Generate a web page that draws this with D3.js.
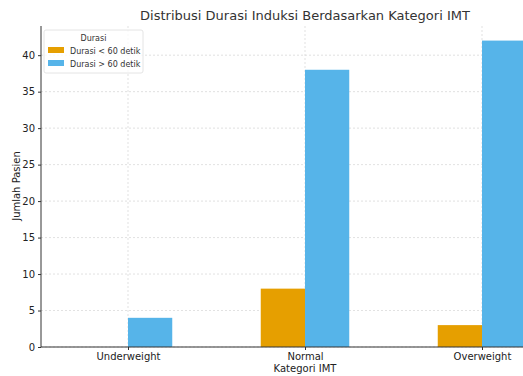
<!DOCTYPE html>
<html>
<head>
<meta charset="utf-8">
<script src="https://cdn.jsdelivr.net/npm/d3@7"></script>
<style>
  body { margin: 0; background: #fff; }
  svg { display: block; font-family: "DejaVu Sans", sans-serif; }
</style>
</head>
<body>
<div id="chart"></div>
<script>
const categories = ["Underweight", "Normal", "Overweight"];
const seriesNames = ["Durasi < 60 detik", "Durasi > 60 detik"];
const under60 = [0, 8, 3];
const over60 = [4, 38, 42];
const yTicks = [0, 5, 10, 15, 20, 25, 30, 35, 40];
const colors = ["#E69F00", "#56B4E9"];

const width = 523, height = 376;
const plotLeft = 41, plotTop = 26, plotBottom = 347;

const svg = d3.select("#chart").append("svg")
  .attr("width", width).attr("height", height);

// category index -> pixel centre
const x = d3.scaleLinear().domain([0, 1]).range([128, 305]);
const y = d3.scaleLinear().domain([0, 44]).range([plotBottom, plotTop]);
const barW = x(0.25) - x(0);

// grid
svg.append("g").selectAll("line").data(yTicks).enter().append("line")
  .attr("x1", plotLeft).attr("x2", width)
  .attr("y1", d => y(d)).attr("y2", d => y(d))
  .attr("stroke", "#d9d9d9").attr("stroke-width", 0.8)
  .attr("stroke-dasharray", "2,2");
svg.append("g").selectAll("line").data(categories).enter().append("line")
  .attr("x1", (d, i) => x(i)).attr("x2", (d, i) => x(i))
  .attr("y1", plotTop).attr("y2", plotBottom)
  .attr("stroke", "#d9d9d9").attr("stroke-width", 0.8)
  .attr("stroke-dasharray", "2,2");

// bars
const series = [under60, over60];
series.forEach((vals, s) => {
  svg.append("g").selectAll("rect").data(vals).enter().append("rect")
    .attr("x", (d, i) => x(i) + (s - 1) * barW)
    .attr("y", d => y(d))
    .attr("width", barW)
    .attr("height", d => y(0) - y(d))
    .attr("fill", colors[s]);
});

// axes
const yAxis = svg.append("g")
  .attr("transform", "translate(" + plotLeft + ",0)")
  .call(d3.axisLeft(y).tickValues(yTicks).tickSize(3).tickPadding(3));
yAxis.select(".domain").attr("stroke", "#333").attr("d", "M0," + plotTop + "V" + plotBottom);
yAxis.selectAll(".tick line").attr("stroke", "#333");
yAxis.selectAll("text").attr("font-size", 10).attr("fill", "#222")
  .attr("font-family", "DejaVu Sans, sans-serif");

const xAxis = svg.append("g")
  .attr("transform", "translate(0," + plotBottom + ")")
  .call(d3.axisBottom(x).tickValues([0, 1, 2]).tickFormat(i => categories[i]).tickSize(3).tickPadding(3));
xAxis.select(".domain").attr("stroke", "#333").attr("d", "M" + plotLeft + ",0H" + width);
xAxis.selectAll(".tick line").attr("stroke", "#333");
xAxis.selectAll("text").attr("font-size", 10).attr("fill", "#222")
  .attr("font-family", "DejaVu Sans, sans-serif");

// labels
svg.append("text").attr("x", 305).attr("y", 20).attr("text-anchor", "middle")
  .attr("font-size", 13).attr("fill", "#333")
  .text("Distribusi Durasi Induksi Berdasarkan Kategori IMT");
svg.append("text").attr("x", 305).attr("y", 372).attr("text-anchor", "middle")
  .attr("font-size", 10).attr("fill", "#222").text("Kategori IMT");
svg.append("text").attr("transform", "translate(20,186) rotate(-90)")
  .attr("text-anchor", "middle").attr("font-size", 10).attr("fill", "#222")
  .text("Jumlah Pasien");

// legend
const lg = svg.append("g").attr("transform", "translate(44,30)");
lg.append("rect").attr("width", 99).attr("height", 43).attr("rx", 2)
  .attr("fill", "#fff").attr("fill-opacity", 0.8)
  .attr("stroke", "#ddd").attr("stroke-width", 0.8);
lg.append("text").attr("x", 49.5).attr("y", 11).attr("text-anchor", "middle")
  .attr("font-size", 8).attr("fill", "#333").text("Durasi");
seriesNames.forEach((name, i) => {
  lg.append("rect").attr("x", 4).attr("y", 17 + i * 13).attr("width", 16).attr("height", 6)
    .attr("fill", colors[i]);
  lg.append("text").attr("x", 26).attr("y", 23.5 + i * 13)
    .attr("font-size", 8).attr("fill", "#333").text(name);
});
</script>
</body>
</html>
